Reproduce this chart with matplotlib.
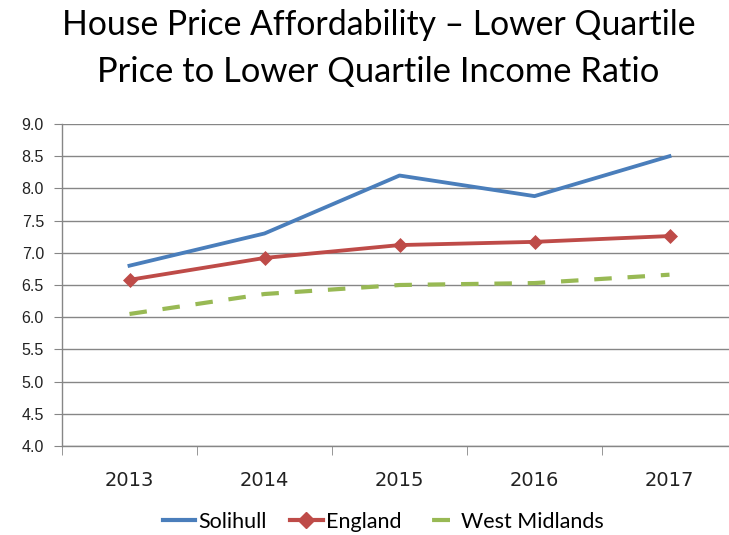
import matplotlib.pyplot as plt
from matplotlib.lines import Line2D

years = ["2013", "2014", "2015", "2016", "2017"]
solihull = [6.80, 7.30, 8.20, 7.88, 8.50]
england = [6.58, 6.92, 7.12, 7.17, 7.26]
west_midlands = [6.05, 6.36, 6.50, 6.53, 6.66]
y_ticks = [4.0, 4.5, 5.0, 5.5, 6.0, 6.5, 7.0, 7.5, 8.0, 8.5, 9.0]

BLUE, RED, GREEN = "#4a7ebb", "#be4b48", "#98b954"
GRID = "#868686"

W, H = 729, 535
fig = plt.figure(figsize=(W / 100, H / 100), dpi=100)
ax = fig.add_axes([62 / W, 1 - 446 / H, (737 - 62) / W, (446 - 124) / H])

x = list(range(len(years)))
ax.plot(x, solihull, color=BLUE, lw=2.75, zorder=3)
ax.plot(x, england, color=RED, lw=2.75, marker="D", markersize=7.5,
        markeredgewidth=0.5, zorder=3)
ax.plot(x, west_midlands, color=GREEN, lw=3, dashes=(4.2, 3.8), zorder=3)

ax.set_xlim(-0.5, 4.5)
ax.set_ylim(4.0, 9.0)
ax.set_yticks(y_ticks)
ax.set_yticklabels([f"{v:.1f}" for v in y_ticks], fontsize=11.5,
                   family="Liberation Sans", color="#222222")
ax.set_xticks(x)
ax.set_xticklabels(years, fontsize=14, family="DejaVu Sans", color="#222222")
ax.set_xticks([i - 0.5 for i in range(len(years) + 1)], minor=True)
ax.tick_params(axis="x", which="major", length=0, pad=18)
ax.tick_params(axis="x", which="minor", length=6.5, color=GRID)
ax.tick_params(axis="y", length=6, color=GRID, pad=7)
ax.grid(axis="y", color=GRID, lw=1)
ax.set_axisbelow(True)
for s in ["top", "right"]:
    ax.spines[s].set_visible(False)
for s in ["left", "bottom"]:
    ax.spines[s].set_color(GRID)
    ax.spines[s].set_linewidth(1)

fig.text(379 / W, 1 - 25 / H, "House Price Affordability \u2013 Lower Quartile",
         ha="center", va="center", fontsize=24.3, family="Lato")
fig.text(378 / W, 1 - 72 / H, "Price to Lower Quartile Income Ratio",
         ha="center", va="center", fontsize=24.8, family="Lato")

handles = [
    Line2D([], [], color=BLUE, lw=3),
    Line2D([], [], color=RED, lw=3, marker="D", markersize=8),
    Line2D([], [], color=GREEN, lw=3, linestyle=(12.6, (4.3, 10.0))),
]
fig.legend(handles, ["Solihull", "England", "West Midlands"],
           loc="center", bbox_to_anchor=(383 / W, 1 - 522 / H), ncol=3,
           frameon=False, prop={"family": "Lato", "size": 15.5},
           handlelength=1.5, handletextpad=0.15, columnspacing=1.1)

fig.savefig("out.png", dpi=100)
